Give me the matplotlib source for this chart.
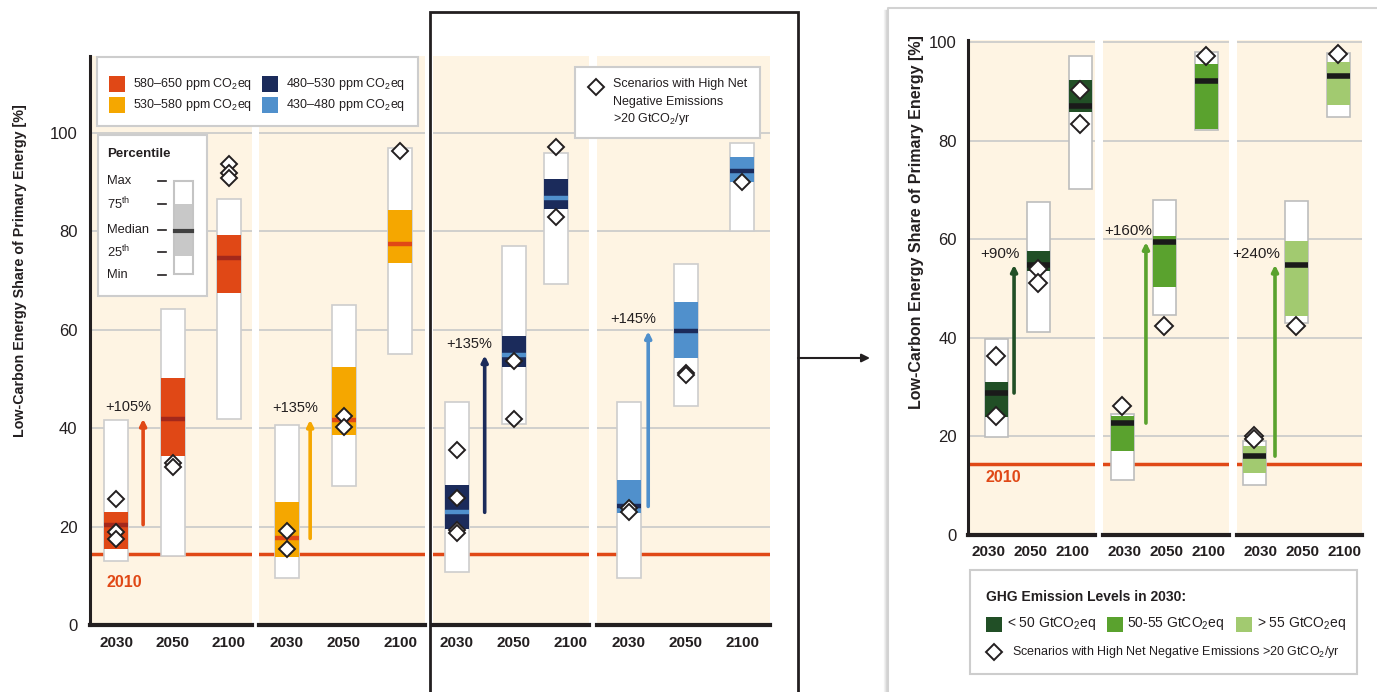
import matplotlib
matplotlib.use('Agg')
import matplotlib.pyplot as plt
import matplotlib.font_manager as fm
from matplotlib.patches import Rectangle
import numpy as np

# ---------------- DATA ----------------
years = ['2030', '2050', '2100']

# Left: concentration categories
conc_labels = ['580–650 ppm CO$_2$eq', '530–580 ppm CO$_2$eq',
               '480–530 ppm CO$_2$eq', '430–480 ppm CO$_2$eq']
conc_min = [[13.1, 14.1, 41.9], [9.6, 28.2, 55.0], [10.8, 40.9, 69.3], [9.6, 44.6, 80.0]]
conc_q25 = [[15.5, 34.4, 67.5], [13.9, 38.7, 73.6], [19.6, 52.4, 84.5], [22.7, 54.2, 90.0]]
conc_med = [[20.4, 41.9, 74.6], [17.6, 41.7, 77.5], [22.9, 54.8, 86.7], [24.1, 59.7, 92.2]]
conc_q75 = [[22.9, 50.3, 79.3], [24.9, 52.4, 84.3], [28.4, 58.7, 90.6], [29.4, 65.6, 95.1]]
conc_max = [[41.7, 64.2, 86.5], [40.7, 65.0, 96.9], [45.4, 77.1, 95.9], [45.4, 73.4, 98.0]]
conc_nne = [
    [[25.6, 19.0, 17.4], [32.9, 32.1], [93.8, 91.9, 90.8]],
    [[19.2, 15.5], [42.5, 40.3], [96.3]],
    [[35.6, 25.8, 19.4, 18.8], [53.6, 41.9], [97.1, 83.0]],
    [[23.7, 22.9], [51.2, 50.8], [90.0]],
]
conc_increase = ['+105%', '+135%', '+135%', '+145%']

# Right: GHG emission levels in 2030 (430-530 ppm scenarios)
ghg_labels = ['< 50 GtCO$_2$eq', '50-55 GtCO$_2$eq', '> 55 GtCO$_2$eq']
ghg_min = [[19.9, 41.2, 70.2], [11.2, 44.6, 82.2], [10.1, 43.0, 84.8]]
ghg_q25 = [[23.9, 53.6, 85.8], [17.0, 50.3, 82.4], [12.6, 44.4, 87.2]]
ghg_med = [[28.8, 54.8, 87.0], [22.7, 59.4, 92.1], [16.0, 54.8, 93.1]]
ghg_q75 = [[31.0, 57.6, 92.3], [24.1, 60.6, 95.5], [18.1, 59.6, 95.9]]
ghg_max = [[39.8, 67.5, 97.2], [24.5, 68.0, 98.0], [19.1, 67.7, 97.8]]
ghg_nne = [
    [[36.3, 24.1], [54.0, 51.1], [90.3, 83.4]],
    [[26.2], [42.4], [97.2]],
    [[20.1, 19.5], [42.4], [97.6]],
]
ghg_increase = ['+90%', '+160%', '+240%']

share_2010 = 14.5
yticks = [0, 20, 40, 60, 80, 100]

# ---------------- STYLE ----------------
avail = {f.name for f in fm.fontManager.ttflist}
FONT = 'Liberation Sans' if 'Liberation Sans' in avail else 'DejaVu Sans'
plt.rcParams['font.family'] = [FONT, 'DejaVu Sans']
plt.rcParams['mathtext.fontset'] = 'custom'
plt.rcParams['mathtext.rm'] = FONT
plt.rcParams['mathtext.it'] = FONT
plt.rcParams['mathtext.bf'] = FONT + ':bold'
plt.rcParams['mathtext.default'] = 'regular'

CREAM = '#FEF4E3'
RED = '#E04816'
DARKRED = '#A3281B'
ORANGE = '#F5A700'
NAVY = '#1B2B5B'
LBLUE = '#5090CC'
DGREEN = '#214F26'
MGREEN = '#5AA22E'
LGREEN = '#A2CA70'
GRID = '#C9C9C9'
TXT = '#231F20'

conc_colors = [RED, ORANGE, NAVY, LBLUE]
conc_medcolors = [DARKRED, RED, LBLUE, NAVY]
ghg_colors = [DGREEN, MGREEN, LGREEN]
ghg_arrow_colors = [DGREEN, MGREEN, MGREEN]

W, H = 1377, 692
fig = plt.figure(figsize=(W / 100, H / 100), dpi=100)
fig.patch.set_facecolor('white')


def px_axes(x0, x1, y0, y1, **kw):
    return fig.add_axes([x0 / W, 1 - y1 / H, (x1 - x0) / W, (y1 - y0) / H], **kw)


def style_axes(ax, xlim, ylim, first, tick_fs, tick_pad, ytick_fs, ytick_pad, label_shift=0.0):
    ax.set_facecolor(CREAM)
    ax.set_xlim(*xlim)
    ax.set_ylim(*ylim)
    ax.set_yticks(yticks)
    ax.yaxis.grid(True, color=GRID, lw=1.2)
    ax.set_axisbelow(True)
    for s in ['top', 'right']:
        ax.spines[s].set_visible(False)
    ax.spines['bottom'].set_linewidth(3)
    ax.spines['bottom'].set_color(TXT)
    ax.set_xticks(np.arange(3) + label_shift)
    ax.set_xticklabels(years, fontsize=tick_fs, fontweight='bold', color=TXT)
    ax.tick_params(axis='x', length=0, pad=tick_pad)
    if first:
        ax.spines['left'].set_linewidth(2.2)
        ax.spines['left'].set_color(TXT)
        ax.set_yticklabels([str(v) for v in yticks], fontsize=ytick_fs, color=TXT)
        ax.tick_params(axis='y', length=0, pad=ytick_pad)
    else:
        ax.spines['left'].set_visible(False)
        ax.tick_params(axis='y', length=0, labelleft=False)


def draw_boxes(ax, xs, mn, q25, med, q75, mx, nne, color, medcolor, bw, med_lw,
               edge, ms, arrow_x, arrow_color, inc_label, inc_dx, inc_dy, inc_fs):
    xs = np.asarray(xs, dtype=float)
    mn, q25, med, q75, mx = map(np.asarray, (mn, q25, med, q75, mx))
    ax.bar(xs, mx - mn, bottom=mn, width=bw, color='white', edgecolor=edge, lw=1.2, zorder=2)
    ax.bar(xs, q75 - q25, bottom=q25, width=bw, color=color, lw=0, zorder=3)
    ax.hlines(med, xs - bw / 2, xs + bw / 2, color=medcolor, lw=med_lw, zorder=4)
    for j, vals in enumerate(nne):
        ax.plot([xs[j]] * len(vals), vals, 'D', ms=ms, mfc='white', mec=TXT, mew=1.4,
                zorder=6, clip_on=False)
    ax.annotate('', xy=(arrow_x, med[1]), xytext=(arrow_x, med[0]),
                arrowprops=dict(arrowstyle='-|>', color=arrow_color, lw=2.6,
                                mutation_scale=9, shrinkA=0, shrinkB=0), zorder=5)
    ax.text(arrow_x + inc_dx, med[1] + inc_dy, inc_label, ha='center', va='center',
            fontsize=inc_fs, color=TXT, zorder=6)


# ---------------- LEFT PANELS ----------------
L_PANELS = [(90, 252, 116), (259, 425, 287), (433, 589, 457), (597, 770, 629)]
L_SP = 56.5
L_Y0, L_Y1 = 56, 625
L_YTOP = (L_Y1 - L_Y0) / 4.92
L_BW = 24 / L_SP
L_ARROW = [0.48, 0.41, 0.49, 0.34]
L_BAR_SHIFT = [[0, 0, 0], [0, 0, 0], [0, 0, -0.25], [0, 0, 0]]

for i, (x0, x1, t0) in enumerate(L_PANELS):
    ax = px_axes(x0, x1, L_Y0, L_Y1)
    style_axes(ax, (-(t0 - x0) / L_SP, (x1 - t0) / L_SP), (0, L_YTOP), i == 0,
               11, 8, 12, 9)
    ax.axhline(share_2010, color=RED, lw=2.5, zorder=1.5)
    xs = np.arange(3) + np.array(L_BAR_SHIFT[i])
    draw_boxes(ax, xs, conc_min[i], conc_q25[i], conc_med[i], conc_q75[i], conc_max[i],
               conc_nne[i], conc_colors[i], conc_medcolors[i], L_BW, 3.2, '#CDCDCD', 8.5,
               L_ARROW[i], conc_colors[i], conc_increase[i], -0.27, 2.4, 10.5)
    if i == 0:
        ax.text(0.15, 8.7, '2010', color=RED, fontsize=11.5, fontweight='bold',
                ha='center', va='center')

fig.text(20 / W, 1 - 271 / H, 'Low-Carbon Energy Share of Primary Energy [%]', rotation=90,
         ha='center', va='center', fontsize=10.3, fontweight='bold', color=TXT)

# ---------------- RIGHT PANELS ----------------
R_PANELS = [(968, 1095, 996), (1103, 1229, 1122), (1237, 1362, 1254)]
R_SP = 42.0
R_Y0, R_Y1 = 40, 535
R_YTOP = (R_Y1 - R_Y0) / 4.93
R_BW = 23 / R_SP
R_ARROW = [0.43, 0.57, 0.5]
R_LABEL_SHIFT = [-8 / R_SP, 2 / R_SP, 6 / R_SP]
R_INC_DX = [-0.33, -0.43, -0.45]

for i, (x0, x1, t0) in enumerate(R_PANELS):
    ax = px_axes(x0, x1, R_Y0, R_Y1)
    style_axes(ax, (-(t0 - x0) / R_SP, (x1 - t0) / R_SP), (0, R_YTOP), i == 0,
               11, 7, 12, 8, R_LABEL_SHIFT[i])
    ax.axhline(share_2010, color=RED, lw=2.5, zorder=1.5)
    draw_boxes(ax, np.arange(3), ghg_min[i], ghg_q25[i], ghg_med[i], ghg_q75[i], ghg_max[i],
               ghg_nne[i], ghg_colors[i], '#1A1A1A', R_BW, 4, '#BDBDBD', 9,
               R_ARROW[i], ghg_arrow_colors[i], ghg_increase[i], R_INC_DX[i], 2.2, 11)
    if i == 0:
        ax.text(0.17, 11.6, '2010', color=RED, fontsize=11.5, fontweight='bold',
                ha='center', va='center')

fig.text(917 / W, 1 - 222 / H, 'Low-Carbon Energy Share of Primary Energy [%]', rotation=90,
         ha='center', va='center', fontsize=11.5, fontweight='bold', color=TXT)

# ---------------- OVERLAY (legends, frames) ----------------
ov = fig.add_axes([0, 0, 1, 1], zorder=10)
ov.set_xlim(0, W)
ov.set_ylim(H, 0)
ov.axis('off')
ov.patch.set_alpha(0)


def box(x0, y0, x1, y1, ec='#CDCDCD', lw=1.5, fc='white'):
    ov.add_patch(Rectangle((x0, y0), x1 - x0, y1 - y0, fc=fc, ec=ec, lw=lw))


# concentration legend
box(97, 57, 418, 126)
for k, (px, py) in enumerate([(109, 76), (109, 97), (262, 76), (262, 97)]):
    ov.add_patch(Rectangle((px, py), 16, 16, fc=conc_colors[k], ec='none'))
    ov.text(px + 24, py + 8, conc_labels[k], fontsize=9, va='center', ha='left', color=TXT)

# percentile legend
box(98, 135, 207, 296)
ov.text(107, 154, 'Percentile', fontsize=9.5, fontweight='bold', va='center', color=TXT)
for lab, yy in zip(['Max', '75$^{th}$', 'Median', '25$^{th}$', 'Min'], [181, 204, 230, 252, 275]):
    ov.text(107, yy, lab, fontsize=9.3, va='center', color=TXT)
    ov.plot([158, 166], [yy, yy], color=TXT, lw=1.2)
ov.add_patch(Rectangle((174, 181), 19, 93, fc='white', ec='#C4C4C4', lw=1.5))
ov.add_patch(Rectangle((175, 204), 17, 52, fc='#C8C8C8', ec='none'))
ov.plot([175, 192], [231, 231], color='#404040', lw=3)

# scenario legend (left)
box(575, 67, 760, 138)
ov.plot(596, 87, 'D', ms=8, mfc='white', mec=TXT, mew=1.4)
for t, yy in zip(['Scenarios with High Net', 'Negative Emissions', '>20 GtCO$_2$/yr'], [84, 102, 119]):
    ov.text(613, yy, t, fontsize=9, va='center', color=TXT)

# black frame around panels 3-4
ov.plot([430, 430, 798, 798], [692, 12, 12, 692], color=TXT, lw=2, solid_joinstyle='miter')
ov.annotate('', xy=(870, 358), xytext=(798, 358),
            arrowprops=dict(arrowstyle='-|>', color=TXT, lw=1.5, mutation_scale=12,
                            shrinkA=0, shrinkB=0))

# right frame with soft shadow
for k, a in enumerate([0.04, 0.07, 0.11, 0.16]):
    ov.plot([884 + k, 884 + k], [10, 692], color='black', alpha=a, lw=1)
ov.plot([888, 888, W], [692, 8, 8], color='#D2D2D2', lw=1.5)

# right legend
box(970, 570, 1357, 674)
ov.text(986, 597, 'GHG Emission Levels in 2030:', fontsize=10, fontweight='bold',
        va='center', color=TXT)
for k, (px, tx) in enumerate([(986, 1007), (1107, 1127), (1236, 1257)]):
    ov.add_patch(Rectangle((px, 617), 16, 15, fc=ghg_colors[k], ec='none'))
    ov.text(tx, 624, ghg_labels[k], fontsize=10, va='center', color=TXT)
ov.plot(994, 652, 'D', ms=8, mfc='white', mec=TXT, mew=1.4)
ov.text(1012, 652, 'Scenarios with High Net Negative Emissions >20 GtCO$_2$/yr',
        fontsize=9, va='center', color=TXT)

fig.savefig('out.png', dpi=100, facecolor='white')
